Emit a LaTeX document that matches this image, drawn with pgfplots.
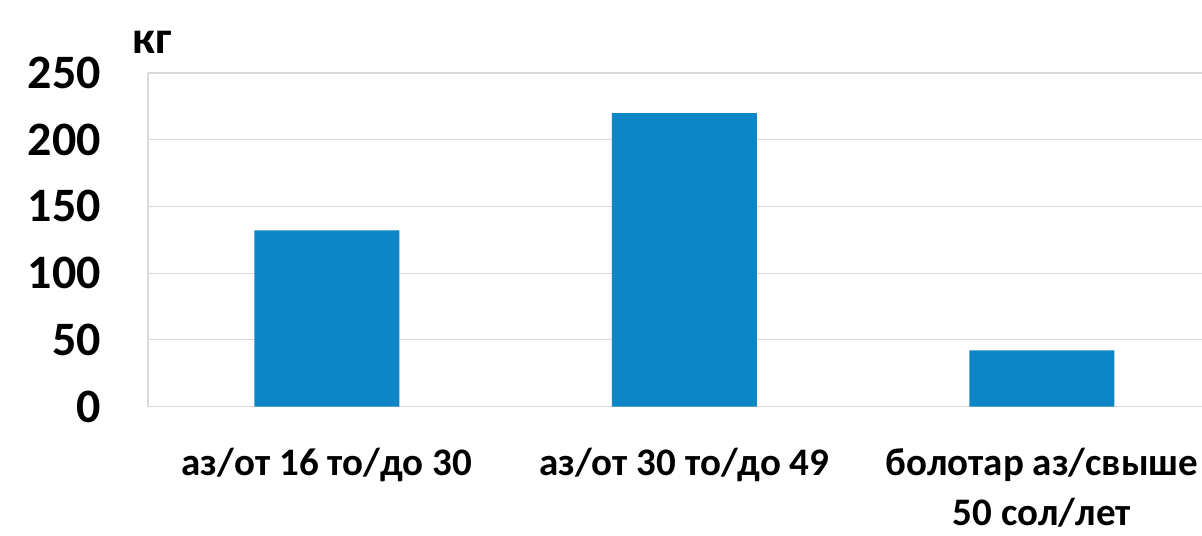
\documentclass[border=0pt]{standalone}
\usepackage{fontspec}
\setmainfont{Carlito}
\usepackage{pgfplots}
\pgfplotsset{compat=1.18}
\definecolor{barblue}{RGB}{14,134,198}
\definecolor{gridgray}{RGB}{217,217,217}
\begin{document}
\begin{tikzpicture}
\begin{axis}[
  scale only axis,
  width=527pt, height=166.75pt,
  xmin=-0.5, xmax=2.448,
  ymin=0, ymax=250,
  ytick={0,50,100,150,200,250},
  xtick={0,1,2},
  xticklabels={{аз/от 16 то/до 30},{аз/от 30 то/до 49},{болотар аз/свыше\\50 сол/лет}},
  /pgf/number format/assume math mode=true,
  separate axis lines,
  axis x line*=bottom,
  axis y line*=left,
  axis line style={gridgray, line width=0.8pt, -},
  ymajorgrids,
  grid style={gridgray, line width=0.6pt},
  major tick length=0pt,
  yticklabel style={font=\bfseries\fontsize{24}{29}\selectfont, anchor=east, xshift=-20pt},
  xticklabel style={font=\bfseries\fontsize{19.5}{25}\selectfont, align=center, anchor=north, yshift=-17.5pt},
  ybar, bar width=72.5pt,
  clip=false,
]
\addplot[fill=barblue, draw=none] coordinates {(0,132) (1,220) (2,42)};
\node[font=\bfseries\fontsize{23}{28}\selectfont, anchor=south] at ([xshift=2pt,yshift=6pt]rel axis cs:0,1) {кг};
\end{axis}
\pgfresetboundingbox
\path[use as bounding box] ([xshift=-74pt,yshift=-64.75pt]current axis.south west) rectangle ([yshift=36.5pt]current axis.north east);
\end{tikzpicture}
\end{document}
